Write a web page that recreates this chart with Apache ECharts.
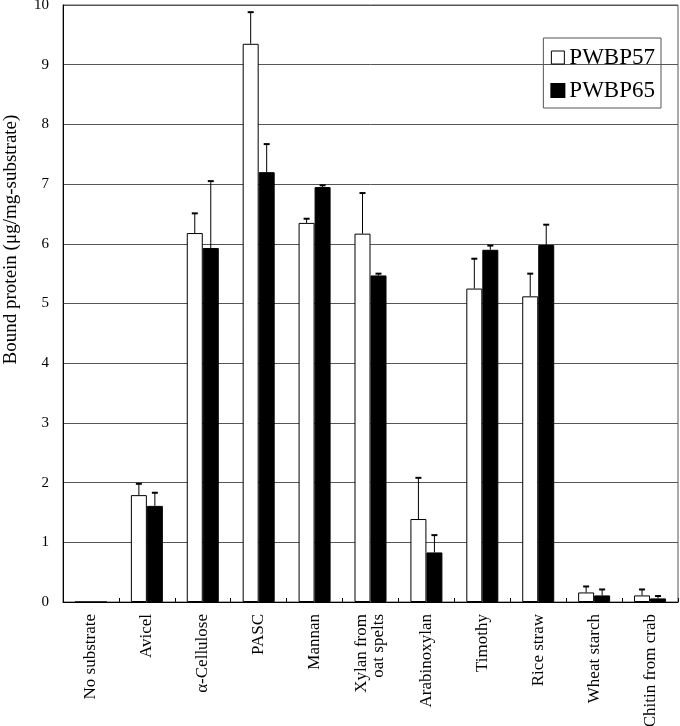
<!DOCTYPE html>
<html>
<head>
<meta charset="utf-8">
<script src="https://cdn.jsdelivr.net/npm/echarts@6/dist/echarts.min.js"></script>
<style>
  html, body { margin: 0; padding: 0; background: #fff; }
  #chart { width: 680px; height: 726px; }
</style>
</head>
<body>
<div id="chart"></div>
<script>
// substrates on the x axis
const categories = [
  "No substrate", "Avicel", "α-Cellulose", "PASC", "Mannan",
  "Xylan from\noat spelts", "Arabinoxylan", "Timothy", "Rice straw",
  "Wheat starch", "Chitin from crab"
];
// bound protein, μg/mg-substrate
const pwbp57 = [0, 1.79, 6.18, 9.35, 6.35, 6.17, 1.39, 5.25, 5.12, 0.16, 0.11];
const pwbp57Err = [0, 0.19, 0.33, 0.53, 0.07, 0.68, 0.69, 0.5, 0.38, 0.1, 0.1];
const pwbp65 = [0, 1.61, 5.93, 7.2, 6.95, 5.47, 0.83, 5.9, 5.98, 0.11, 0.06];
const pwbp65Err = [0, 0.22, 1.12, 0.47, 0.03, 0.03, 0.29, 0.07, 0.34, 0.1, 0.04];

const serif = "Liberation Serif";
const barW = 16;

function errorSeries(name, values, errs, shift) {
  return {
    type: "custom",
    name: name + " err",
    z: 5,
    data: values.map((v, i) => [i, v, v + errs[i]]),
    renderItem: function (params, api) {
      const lo = api.coord([api.value(0), api.value(1)]);
      const hi = api.coord([api.value(0), api.value(2)]);
      if (api.value(2) - api.value(1) <= 0) return null;
      const x = lo[0] + shift;
      return {
        type: "group",
        children: [
          { type: "line", shape: { x1: x, y1: lo[1], x2: x, y2: hi[1] }, style: { stroke: "#000", lineWidth: 1 } },
          { type: "line", shape: { x1: x - 3, y1: hi[1], x2: x + 3, y2: hi[1] }, style: { stroke: "#000", lineWidth: 2 } }
        ]
      };
    }
  };
}

const chart = echarts.init(document.getElementById("chart"));
chart.setOption({
  animation: false,
  grid: {
    left: 63, right: 2, top: 5, bottom: 124,
    outerBoundsMode: "none",
    containLabel: false,
    show: true, borderColor: "#555", borderWidth: 1
  },
  legend: {
    orient: "vertical",
    right: 19, top: 38,
    borderColor: "#555", borderWidth: 1,
    padding: [8, 6, 6, 7],
    itemWidth: 13, itemHeight: 13, itemGap: 10,
    textStyle: { fontFamily: serif, fontSize: 23, color: "#000", padding: [0, 0, 0, 0] },
    data: [
      { name: "PWBP57", icon: "rect", itemStyle: { color: "#fff", borderColor: "#000", borderWidth: 1 } },
      { name: "PWBP65", icon: "rect", itemStyle: { color: "#000" } }
    ]
  },
  xAxis: {
    type: "category",
    data: categories,
    axisLine: { lineStyle: { color: "#000", width: 1 } },
    axisTick: { show: true, inside: true, length: 4, lineStyle: { color: "#000" } },
    axisLabel: {
      rotate: 90, interval: 0, margin: 12,
      fontFamily: serif, fontSize: 17, color: "#000", lineHeight: 17
    }
  },
  yAxis: {
    type: "value",
    min: 0, max: 10, interval: 1,
    name: "Bound protein (μg/mg-substrate)",
    nameLocation: "middle",
    nameGap: 42,
    nameTextStyle: { fontFamily: serif, fontSize: 19, color: "#000", padding: [0, 0, 0, 128] },
    axisLine: { show: true, lineStyle: { color: "#000", width: 1 } },
    axisTick: { show: false },
    axisLabel: { fontFamily: serif, fontSize: 15, color: "#000", margin: 14 },
    splitLine: { lineStyle: { color: "#555", width: 1 } }
  },
  series: [
    {
      name: "PWBP57", type: "bar", data: pwbp57,
      barWidth: barW, barGap: "0%",
      itemStyle: { color: "#fff", borderColor: "#000", borderWidth: 1 }
    },
    {
      name: "PWBP65", type: "bar", data: pwbp65,
      barWidth: barW, barGap: "0%",
      itemStyle: { color: "#000", borderColor: "#000", borderWidth: 1 }
    },
    errorSeries("PWBP57", pwbp57, pwbp57Err, -barW / 2),
    errorSeries("PWBP65", pwbp65, pwbp65Err, barW / 2)
  ]
});
</script>
</body>
</html>
